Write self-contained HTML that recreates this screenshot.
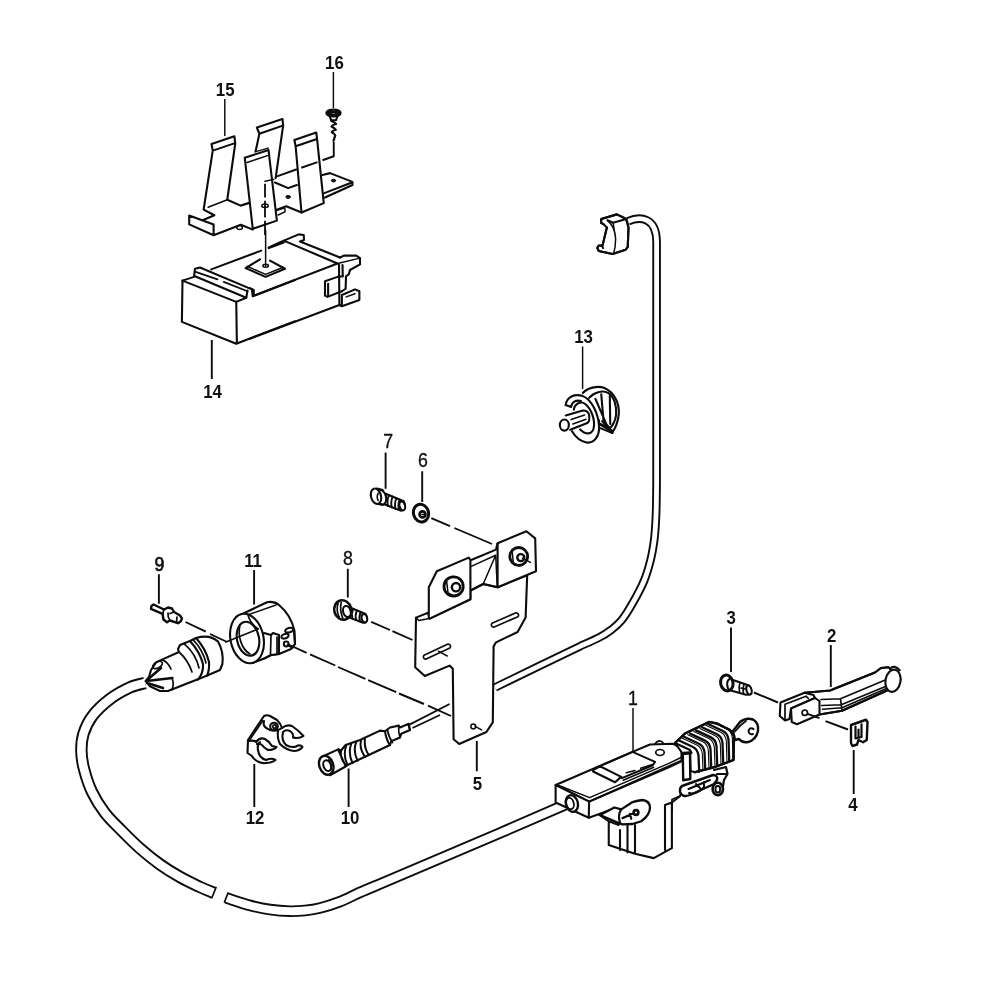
<!DOCTYPE html>
<html><head><meta charset="utf-8"><title>Central locking parts diagram</title>
<style>
html,body{margin:0;padding:0;background:#fff;}
body{width:1000px;height:1000px;overflow:hidden;position:relative;}
svg{position:absolute;left:0;top:0;display:block;}
path,ellipse,circle,line,polyline{vector-effect:non-scaling-stroke;fill:none;stroke:#0c0c0c;stroke-width:2.1;stroke-linecap:round;stroke-linejoin:round;}
.n{stroke-width:1.5;}
.m{stroke-width:1.7;}
.d{stroke-width:1.8;stroke-dasharray:13 4;stroke-linecap:butt;}
.w{fill:#fff;}
.b{fill:#111;}
text.lt{font-weight:normal;stroke:#111;stroke-width:0.35px;font-size:19.5px;}
text.md{font-weight:normal;stroke:#111;stroke-width:0.7px;font-size:19.5px;}
text{font-family:"Liberation Sans",sans-serif;font-weight:bold;font-size:18.5px;fill:#111;text-anchor:middle;}
</style></head><body>
<svg width="1000" height="1000" viewBox="0 0 1000 1000">
<!-- cable from top connector to bracket -->
<g>
<path style="stroke-width:8.6;stroke-linecap:butt" d="M628.1,221.2 C640,216 656.6,217 656.6,242 L656.6,460 C656.6,463.3 656.6,473.3 656.6,480.0 C656.6,486.7 656.5,493.3 656.4,500.0 C656.3,506.7 656.2,513.3 655.8,520.0 C655.4,526.7 655.1,533.3 654.2,540.0 C653.3,546.7 652.3,553.2 650.6,560.0 C648.9,566.8 646.9,573.9 644.0,581.0 C641.1,588.1 636.7,596.0 633.0,602.5 C629.3,609.0 625.5,615.4 621.8,620.0 C618.1,624.6 614.7,627.1 611.0,630.0 C607.3,632.9 604.7,634.6 599.5,637.3 C594.3,640.0 583.2,644.8 580.0,646.3 L540,665.6 L495,687.5"/>
<path style="stroke:#fff;stroke-width:4.8;stroke-linecap:butt" d="M628.1,221.2 C640,216 656.6,217 656.6,242 L656.6,460 C656.6,463.3 656.6,473.3 656.6,480.0 C656.6,486.7 656.5,493.3 656.4,500.0 C656.3,506.7 656.2,513.3 655.8,520.0 C655.4,526.7 655.1,533.3 654.2,540.0 C653.3,546.7 652.3,553.2 650.6,560.0 C648.9,566.8 646.9,573.9 644.0,581.0 C641.1,588.1 636.7,596.0 633.0,602.5 C629.3,609.0 625.5,615.4 621.8,620.0 C618.1,624.6 614.7,627.1 611.0,630.0 C607.3,632.9 604.7,634.6 599.5,637.3 C594.3,640.0 583.2,644.8 580.0,646.3 L540,665.6 L495,687.5"/>
</g>
<!-- left/bottom cable -->
<g>
<path style="stroke-width:12.4;stroke-linecap:butt" d="M145.0,683.0 C142.5,683.7 135.8,684.7 130.0,687.4 C124.2,690.1 116.3,694.2 110.0,699.0 C103.7,703.8 96.8,710.2 92.4,716.0 C88.0,721.8 85.2,728.2 83.4,734.0 C81.6,739.8 81.3,745.2 81.4,751.0 C81.5,756.8 82.2,762.2 84.0,769.0 C85.8,775.8 88.5,784.7 92.0,792.0 C95.5,799.3 100.2,806.7 105.0,813.0 C109.8,819.3 115.2,824.1 121.0,830.0 C126.8,835.9 133.5,842.7 140.0,848.4 C146.5,854.1 153.3,859.6 160.0,864.4 C166.7,869.2 173.3,873.2 180.0,877.0 C186.7,880.8 194.3,884.3 200.0,887.0 C205.7,889.7 211.7,892.0 214.0,893.0"/>
<path style="stroke:#fff;stroke-width:8.6;stroke-linecap:butt" d="M145.0,683.0 C142.5,683.7 135.8,684.7 130.0,687.4 C124.2,690.1 116.3,694.2 110.0,699.0 C103.7,703.8 96.8,710.2 92.4,716.0 C88.0,721.8 85.2,728.2 83.4,734.0 C81.6,739.8 81.3,745.2 81.4,751.0 C81.5,756.8 82.2,762.2 84.0,769.0 C85.8,775.8 88.5,784.7 92.0,792.0 C95.5,799.3 100.2,806.7 105.0,813.0 C109.8,819.3 115.2,824.1 121.0,830.0 C126.8,835.9 133.5,842.7 140.0,848.4 C146.5,854.1 153.3,859.6 160.0,864.4 C166.7,869.2 173.3,873.2 180.0,877.0 C186.7,880.8 194.3,884.3 200.0,887.0 C205.7,889.7 211.7,892.0 214.0,893.0"/>
<path class="m" d="M216,887.5 L212,897.5"/>
<path style="stroke-width:11.6;stroke-linecap:butt" d="M226.4,898.0 C230.3,899.2 242.7,903.5 250.0,905.4 C257.3,907.3 263.3,908.6 270.0,909.6 C276.7,910.6 284.2,911.1 290.0,911.2 C295.8,911.4 300.0,911.0 305.0,910.5 C310.0,910.0 314.2,909.5 320.0,908.0 C325.8,906.5 333.3,904.2 340.0,901.6 C346.7,899.0 353.3,895.3 360.0,892.4 C366.7,889.5 376.7,885.4 380.0,884.0 L500,833 L566,804.4"/>
<path style="stroke:#fff;stroke-width:7.8;stroke-linecap:butt" d="M226.4,898.0 C230.3,899.2 242.7,903.5 250.0,905.4 C257.3,907.3 263.3,908.6 270.0,909.6 C276.7,910.6 284.2,911.1 290.0,911.2 C295.8,911.4 300.0,911.0 305.0,910.5 C310.0,910.0 314.2,909.5 320.0,908.0 C325.8,906.5 333.3,904.2 340.0,901.6 C346.7,899.0 353.3,895.3 360.0,892.4 C366.7,889.5 376.7,885.4 380.0,884.0 L500,833 L566,804.4"/>
<path class="m" d="M228,893 L224.5,902"/>
</g>
<!-- bracket 15 -->
<g transform="translate(180,110) scale(0.125)">
<path d="M252,272 L435,210 M262,325 L440,265 M252,272 L262,325 L190,790 M435,210 L442,268 L378,718 M378,718 L485,765 L548,745"/>
<path class="n" d="M225,778 L378,718"/>
<path d="M615,140 L820,72 M635,190 L822,125 M615,140 L635,190 L605,330 M820,72 L825,125 L765,545"/>
<path d="M518,382 L708,320 M518,382 L582,950 L775,885 L708,320"/>
<path class="n" d="M535,420 L700,365 M600,335 L705,305"/>
<path class="n" d="M680,570 L750,555"/>
<path style="stroke-width:1.8;stroke-linecap:butt" d="M680,590 L680,700 M680,725 L680,860 M680,885 L680,1000"/>
<ellipse class="n" cx="680" cy="765" rx="26" ry="14"/>
</g>
<g transform="translate(180,190) scale(0.08)">
<path d="M295,245 L430,315 L290,375 M115,320 L115,430 L420,565 L420,430 L115,320 M420,565 L760,435 L910,495"/>
<ellipse class="n" cx="745" cy="468" rx="35" ry="25"/>
</g>
<g transform="translate(255,110) scale(0.125)">
<path d="M160,580 L265,625 L335,600"/>
<path d="M315,240 L490,180 M325,290 L495,232 M315,240 L325,290 L372,820 L550,745 L497,235 L490,180"/>
<path d="M540,520 L600,505 L780,575 L780,600 L560,700 M555,665 L770,582"/>
<path d="M170,800 L250,770 L372,820"/>
<path class="n" d="M180,800 L235,785 M185,840 L240,815 L240,790"/>
<ellipse class="b" style="stroke-width:1" cx="265" cy="695" rx="18" ry="12"/><ellipse class="b" style="stroke-width:1" cx="628" cy="565" rx="17" ry="11"/>
<path style="stroke-width:1.9;stroke-linecap:butt" d="M630,255 L630,370 L540,402 M500,417 L370,462 M335,474 L170,533"/>
</g>
<!-- box 14 -->
<g transform="translate(170,225) scale(0.125)">
<path d="M100,445 L95,775 L530,950 L1000,770 M530,615 L535,950 M100,445 L530,615 L610,582"/>
<path d="M100,445 L192,415 L200,350 L240,340 L655,515 L662,570 L1000,440"/>
<path d="M200,410 L610,582 L620,525"/>
<path class="m" d="M205,375 L380,435 M430,455 L620,530"/>
<path d="M330,355 L730,205 M790,180 L900,130"/>
<path d="M605,345 L765,415 L920,350 L800,285 M720,275 L605,345"/>
<path class="n" d="M615,330 L765,395 L905,338"/>
<path class="n" d="M765,45 L765,325"/>
<ellipse class="n" cx="765" cy="325" rx="22" ry="12"/>
</g>
<g transform="translate(250,215) scale(0.125)">
<path d="M150,265 L270,220 M270,205 L390,155 L430,160 L432,200 L400,212 L720,340 M270,205 L700,388 L30,645 L30,600 L0,585"/>
<path d="M720,340 L750,325 L850,325 L880,345 L880,395 L800,440 L790,475 L768,490 L765,590 L735,610"/>
<path d="M700,388 L880,345" class="n"/>
<path d="M712,395 L715,720 M740,400 L742,490" />
<path d="M742,490 L700,495 L600,530 L600,645 L620,655 L735,610 M625,550 L625,640" />
<path d="M735,640 L840,595 L875,610 L875,680 L735,730 L715,720 M735,640 L735,730"/>
<path class="n" d="M770,655 L840,630"/>
<path d="M0,990 L715,720"/>
</g>
<!-- bracket 15 remaining -->
<!-- top connector -->
<g transform="translate(560,190) scale(0.125)">
<path class="w" d="M330,232 L455,195 L530,232 L548,300 L542,455 L525,478 L420,512 L310,488 L298,462 L310,445 L335,445 L340,445 L375,300 L350,275 L328,262 Z"/>
<path d="M330,232 L455,195 L530,232 L425,262 L380,242 M330,232 L328,262 L350,275 M530,232 L548,300 L542,455 L525,478 L420,512 L310,488 L298,462 L310,445 L335,445 L345,465 M375,300 L340,445"/>
<path class="n" d="M380,245 Q440,290 445,390 Q445,460 428,510 M425,262 L445,390"/>
</g>
<!-- clip 13 -->
<g transform="translate(545,370) scale(0.09)">
<path d="M420,255 C470,200 580,170 660,200 C770,250 830,370 820,490 C810,590 780,650 745,700"/>
<path d="M490,310 C540,250 640,220 700,255 C770,300 800,400 790,500 C780,570 750,620 720,650"/>
<path d="M560,320 L690,620 M625,270 L650,560 M720,290 L725,600 M600,560 L600,640 L750,700"/><path style="stroke-width:2.8" d="M610,600 L750,680 M640,570 L720,650"/>
<path class="w" d="M230,390 C240,300 330,260 420,290 C520,330 590,480 600,620 C610,740 540,820 460,805 C390,790 330,730 300,680"/>
<path d="M230,390 L290,410 C 300,350 350,330 400,345"/>
<path d="M320,440 C330,370 400,340 450,380 C520,440 560,560 540,650 C520,720 450,720 390,660"/>
<path class="w" d="M230,505 L420,450 Q480,450 490,500 Q500,570 470,590 L280,665"/>
<path class="n" d="M290,550 L440,500 M310,600 L455,548"/>
<ellipse class="w" cx="215" cy="612" rx="50" ry="62"/>

</g>
<!-- screw 16 -->
<g transform="translate(255,110) scale(0.125)">
<path class="w" d="M595,45 L610,82 L648,82 L662,45"/>
<ellipse class="w" style="stroke-width:2.4" cx="628" cy="24" rx="56" ry="27"/>
<path style="stroke-width:2.4" d="M585,24 Q628,50 670,24 M600,15 L655,15"/>
<path style="stroke-width:2.3" d="M612,88 Q640,100 648,112 Q620,118 612,132 Q640,146 646,158 Q620,164 614,178 Q640,192 642,204 L628,246"/>
</g>
<!-- bracket 5 -->
<g transform="translate(400,520) scale(0.16)">
<path class="w" d="M100,610 L95,920 L155,975 L310,910 L330,930 L335,1370 L370,1400 L540,1325 L580,1265 L585,790 L600,765 L735,700 L785,610 L795,345 L610,420 L520,400 L440,440 L440,495 L185,615 L175,580 Z"/>
<path class="w" d="M180,610 L180,420 L230,320 L430,235 L440,250 L440,495 L185,617"/>
<path class="w" d="M610,145 L790,70 L845,115 L850,320 L610,420 Z"/>
<path d="M445,250 L600,185 L610,145 M445,440 L520,400 L610,420"/>
<path class="n" d="M445,290 L598,220 M520,400 L598,220 L608,418"/>
<path class="n" d="M100,610 L118,628 L182,615"/>
<path d="M160,870 A15,15 0 0 1 150,845 L300,775 A15,15 0 0 1 312,800 Z" class="m"/>
<path d="M585,670 A15,15 0 0 1 575,645 L725,580 A15,15 0 0 1 737,605 Z" class="m"/>
<path class="n" d="M240,820 L295,850"/>
<circle style="stroke-width:2.8" cx="335" cy="415" r="60"/>
<circle cx="350" cy="420" r="26" style="stroke-width:2.4"/>
<path class="n" d="M290,370 L300,455 M300,455 L345,478 M290,370 L330,352"/>
<circle style="stroke-width:2.8" cx="742" cy="228" r="56"/>
<circle cx="755" cy="235" r="22" style="stroke-width:2.4"/>
<path class="n" d="M700,185 L708,268 M708,268 L750,288 M700,185 L740,170 M765,238 L815,265"/>
<circle cx="458" cy="1290" r="15" class="n"/>
<path class="n" d="M470,1290 L510,1312"/>
</g>
<!-- screw 7 -->
<g transform="translate(350,420) scale(0.125)">
<path class="w" d="M285,590 L430,650 Q450,690 425,722 L405,725 L265,670 Z"/>
<ellipse class="w" cx="418" cy="687" rx="22" ry="36" transform="rotate(-15 418 687)"/>
<path style="stroke-width:1.9" d="M312,600 Q292,645 305,688 M342,612 Q322,655 335,700 M372,625 Q352,668 365,712 M398,636 Q380,676 392,718"/>
<ellipse class="w" cx="250" cy="618" rx="38" ry="60" transform="rotate(-15 250 618)"/>
<ellipse class="w" cx="208" cy="610" rx="40" ry="63" transform="rotate(-15 208 610)"/>
<path d="M215,548 L262,560 M222,672 L262,678"/>
<path class="n" d="M225,585 Q210,615 225,645"/>
</g>
<!-- washer 6 -->
<g transform="translate(350,420) scale(0.125)">
<ellipse class="w" style="stroke-width:3" cx="568" cy="745" rx="60" ry="72" transform="rotate(-15 568 745)"/>
<circle style="stroke-width:2.6" cx="580" cy="755" r="24"/>
<path class="n" d="M575,755 L600,755"/>
</g>
<!-- screw 8 -->
<g transform="translate(310,530) scale(0.125)">
<path class="w" d="M320,620 L445,672 Q465,705 445,740 L425,742 L300,695 Z"/>
<ellipse class="w" cx="435" cy="706" rx="22" ry="34" transform="rotate(-15 435 706)"/>
<path style="stroke-width:1.9" d="M345,632 Q328,672 340,708 M375,645 Q358,685 370,720 M405,657 Q388,697 400,732"/>
<ellipse class="w" style="stroke-width:2.6" cx="262" cy="640" rx="68" ry="78" transform="rotate(-15 262 640)"/>
<ellipse class="w" cx="295" cy="652" rx="30" ry="45" transform="rotate(-15 295 652)"/>
<path class="m" d="M225,585 Q205,640 235,700 M250,580 Q235,640 262,705"/>
</g>
<!-- axis dashes -->
<path style="stroke-width:1.9;stroke-linecap:butt" d="M431.3,518.1 L450,526.2 M454.4,528 L492,544 M371.2,621.9 L390,630 M392.5,631.2 L412.5,640"/>
<!-- actuator 1 -->
<g transform="translate(545,735) scale(0.125)">
<path class="w" d="M85,400 L700,135 L840,76 L1020,70 Q1080,90 1092,140 L1092,205 L353,533 Z"/>
<path class="w" d="M85,400 L85,540 L350,662 L353,533 Z"/>
<path style="stroke-width:1.9" d="M353,533 L1000,255 L1092,212 M350,662 L440,630 L520,600 M1015,540 L1080,490 L1100,420"/>
<path style="stroke-width:1.6" d="M110,404 L357,501 L1000,223 L1088,180"/>
<path d="M385,280 L440,250 L610,335 L560,378 L385,292 Z M470,235 L700,135 L880,215 L862,242 L615,345"/>
<path class="n" d="M650,302 L720,284 M765,266 L860,236 M625,362 L870,258"/>
<ellipse class="w" style="stroke-width:2.4" cx="215" cy="548" rx="48" ry="68" transform="rotate(-15 215 548)"/>
<ellipse style="stroke-width:1.8" cx="200" cy="548" rx="30" ry="46" transform="rotate(-15 200 548)"/>
<ellipse class="m" cx="920" cy="140" rx="34" ry="24"/>
<path class="m" d="M880,70 Q915,25 950,68"/>
<!-- lower block -->
<path d="M435,640 L510,690 L510,880 L720,950 L870,985 L1015,905 L1015,540 M510,690 L590,720 M600,760 L600,920 M660,720 L660,940 M720,720 L720,950 M960,560 L960,920 M960,560 L1015,540"/>
<!-- connector tab -->
<path class="w" style="stroke-width:2.3" d="M440,640 L555,580 L610,595 L680,550 Q700,530 780,520 Q840,530 840,580 Q840,640 770,690 L700,712 L620,715 L590,705 Z"/>
<path style="stroke-width:2.2" d="M610,595 Q580,640 600,700 M620,665 L700,630 M680,630 L690,670"/>
<circle style="stroke-width:2.6" cx="728" cy="620" r="19"/>
</g>
<!-- bellows / eye / clip on actuator -->
<g transform="translate(670,710) scale(0.1)">
<!-- eye -->
<path class="w" style="stroke-width:2.4" d="M630,210 L700,120 Q760,70 830,95 Q890,130 880,210 Q860,300 780,320 Q720,330 690,290 L650,300 Z"/>
<path class="m" d="M650,215 Q700,150 760,110"/>
<path style="stroke-width:2" d="M835,190 Q795,170 785,210 Q790,250 830,240"/>
<!-- bellows body -->
<path class="w" d="M50,330 L150,235 L390,120 L470,135 L600,200 L640,260 L635,500 L450,570 L250,622 L205,610 L200,430 L130,440 Z"/>
<path style="stroke-width:2.3" d="M80,300 L230,370 Q275,390 285,455 L292,618 M140,268 L290,338 Q335,358 345,423 L352,596 M200,236 L350,306 Q395,326 405,391 L412,575 M260,204 L410,274 Q455,294 465,359 L472,553 M320,172 L470,242 Q515,262 525,327 L532,532 M380,140 L530,210 Q575,230 585,295 L592,510"/>
<path style="stroke-width:1.1" d="M118,280 L268,350 Q313,370 323,435 L330,605 M178,248 L328,318 Q373,338 383,403 L390,583 M238,216 L388,286 Q433,306 443,371 L450,562 M298,184 L448,254 Q493,274 503,339 L510,540 M358,152 L508,222 Q553,242 563,307 L570,519 M418,120 L568,190 Q613,210 623,275 L630,497"/>
<path style="stroke-width:2.4" d="M50,330 L150,235 L390,120 L470,135 L600,200 L640,260 L635,500 L450,570 L250,622"/>
<path style="stroke-width:2.2" d="M50,330 L200,400 L215,430"/>
<!-- post -->
<path class="w" style="stroke-width:2.4" d="M128,440 L200,430 L203,690 L132,702 Z"/>
<path style="stroke-width:3" d="M135,432 L198,428"/>
<!-- clip below -->
<path class="w" style="stroke-width:2.4" d="M120,760 L430,650 Q480,650 470,700 L440,740 L200,850 Q120,880 100,820 Q95,780 120,760 Z"/>
<path style="stroke-width:2" d="M185,790 L400,700 M190,830 Q260,850 330,780 M260,740 L300,780 M340,720 L340,770"/>
<ellipse class="w" style="stroke-width:2.6" cx="478" cy="790" rx="52" ry="62"/>
<ellipse style="stroke-width:2" cx="478" cy="792" rx="24" ry="32"/>
<path style="stroke-width:2.2" d="M440,600 L560,570 L575,640 L540,700 L530,760 M470,640 L560,640"/>
<path class="m" d="M100,860 L20,895 L20,1000"/>
</g>
<!-- lever 2 -->
<g transform="translate(770,650) scale(0.15)">
<path class="w" d="M230,285 L290,280 L400,270 L500,230 L700,150 L740,120 L790,115 L870,200 L780,270 L480,405 L330,430 Z"/>
<path d="M230,285 L290,280 L400,270 L500,230 L700,150 L740,120 L790,115 M330,430 L480,405 L780,270"/>
<path class="m" d="M340,330 L470,325 L780,195 M345,370 L475,365 L790,235 M350,395 L480,385 L780,255 M470,325 L480,405"/>
<ellipse class="w" cx="820" cy="205" rx="50" ry="75" transform="rotate(10 820 205)"/>
<path d="M800,125 Q830,95 865,135"/>
<path class="w" d="M70,350 L230,285 L290,300 L300,320 L140,390 L130,460 L100,470 L65,440 Z"/>
<path class="w" d="M140,390 L300,320 L330,340 L330,430 L180,495 L145,480 Z"/>
<path class="m" d="M100,362 L240,308 L255,322 M100,362 L100,468"/>
<circle class="m" cx="232" cy="418" r="18"/>
<!-- clip 4 -->
<path class="w" style="stroke-width:2.4" d="M540,500 L640,465 L650,480 L645,600 L620,615 L590,600 L580,630 L550,640 L540,620 Z"/>
<path style="stroke-width:2.2" d="M570,510 L570,590 L610,580 L610,495 M590,530 L590,585"/>
</g>
<!-- screw 3 -->
<g transform="translate(700,640) scale(0.1)">
<path class="w" d="M300,390 L490,455 Q520,490 500,545 L460,548 L290,500 Z"/>
<ellipse class="w" cx="490" cy="500" rx="25" ry="46" transform="rotate(-15 490 500)"/>
<path class="m" d="M400,425 Q385,470 395,520 M440,440 Q425,485 435,535 M410,480 L450,490"/>
<ellipse class="w" style="stroke-width:3" cx="268" cy="430" rx="62" ry="80" transform="rotate(-12 268 430)"/>
<path class="w" style="stroke-width:2" d="M300,388 Q270,400 272,445 Q275,490 295,502"/>
</g>
<path style="stroke-width:1.9;stroke-linecap:butt" d="M754,692.5 L778,702.5 M807.5,713.8 L819.5,718.2 M825.5,721.2 L848,729.5"/>
<!-- plug -->
<g transform="translate(130,540) scale(0.2)">
<path class="w" d="M80,705 L95,685 L105,650 L130,612 L160,598 L245,560 L240,545 L250,525 L300,505 L330,490 Q400,470 440,508 Q470,560 462,620 L450,650 L380,680 L330,700 L190,755 L150,755 L100,732 Z"/>
<path d="M300,505 Q350,560 365,620 Q368,665 340,698 M330,490 Q380,545 395,610 Q398,650 385,678"/>
<path class="m" d="M245,560 Q290,600 310,660 M270,518 Q330,570 345,640 M315,498 Q365,550 380,615"/>
<path class="m" d="M160,598 Q190,610 205,645 M210,690 Q222,720 210,748"/>
<ellipse class="m" cx="138" cy="625" rx="26" ry="15" transform="rotate(-30 138 625)"/>
<path style="stroke-width:2.6" d="M80,705 L155,640 M82,705 L212,690 M85,715 L165,740"/>
</g>
<!-- pin 9 -->
<g transform="translate(130,590) scale(0.1)">
<path class="w" style="stroke-width:2.4" d="M215,160 L235,145 L340,195 L380,175 L420,185 L440,220 L500,255 L520,285 L505,315 L480,332 L400,305 L370,322 L335,295 L325,238 L210,188 Z"/>
<path class="m" d="M340,195 Q320,240 335,295 M380,230 Q375,270 400,305 M440,220 L400,235 M470,270 L465,325"/>
</g>
<!-- sleeve 11 -->
<g transform="translate(215,585) scale(0.1)">
<path class="w" d="M215,318 L520,172 Q590,160 640,200 Q760,300 795,460 L800,590 L760,640 L640,690 L560,700 L480,740 L370,780 Z"/>
<path class="n" d="M325,300 L610,200"/>
<path class="w" d="M490,480 L560,500 L580,480 L640,500 L640,690 L560,700 L480,740"/>
<path class="m" d="M560,500 L555,690 M620,520 L620,690"/>
<ellipse class="w" style="stroke-width:2" cx="742" cy="452" rx="42" ry="22" transform="rotate(-15 742 452)"/>
<ellipse class="w" style="stroke-width:2" cx="700" cy="512" rx="38" ry="22" transform="rotate(-20 700 512)"/>
<circle class="w" style="stroke-width:2" cx="712" cy="590" r="24"/>
<path style="stroke-width:2" d="M725,600 L775,630 M790,470 L800,590"/>
<ellipse class="w" cx="320" cy="535" rx="165" ry="250" transform="rotate(-12 320 535)"/>
<ellipse cx="330" cy="538" rx="110" ry="172" transform="rotate(-12 330 538)"/>
<path class="m" d="M250,400 C225,500 260,640 350,690"/>
<path d="M110,570 L430,440" class="m"/>
<path class="m" d="M330,300 Q350,380 430,440"/>
</g>
<!-- clip 12 -->
<g transform="translate(230,700) scale(0.1)">
<path class="w" d="M180,400 L340,160 Q370,145 400,160 L470,200 Q510,240 520,280 L480,310 L480,420 L300,420 L280,500 Q290,580 360,600 L400,625 L340,632 Q250,620 220,560 L175,530 Z" style="stroke:none"/>
<path d="M180,400 L340,160 Q370,145 400,160 L470,200 Q510,240 520,280 M180,400 L175,530 L220,560 Q250,620 340,632 L400,625 Q440,615 455,600 Q420,575 360,600 Q290,580 280,500 Q270,440 300,420"/>
<path d="M340,210 Q320,270 400,300 Q470,320 520,280 Q570,240 620,260 Q680,300 735,360 Q690,390 630,375 Q640,340 600,310 Q560,290 530,320 Q510,400 560,450 Q610,480 660,465 Q700,440 725,470 Q690,510 640,510 Q560,500 500,440 Q470,380 480,310"/>
<path d="M190,410 Q240,400 260,420 Q300,370 350,390 Q400,420 420,460 L465,470 Q440,500 380,500 Q340,480 320,450 Q290,430 270,440"/>
<circle cx="440" cy="265" r="38"/>
<circle class="m" cx="445" cy="265" r="17"/>
<path class="n" d="M200,395 L330,205"/>
</g>
<!-- connector 10 -->
<g transform="translate(310,690) scale(0.125)">
<path class="w" d="M110,528 L225,475 L250,482 L285,440 L400,400 L560,325 L600,330 L640,300 L710,285 L720,300 L790,270 L800,320 L730,350 L720,380 L650,410 L640,440 L470,520 L300,600 L285,612 L160,682 Z"/>
<path style="stroke-width:2" d="M290,445 Q262,520 300,600 M330,430 Q302,505 340,585 M370,415 Q342,490 380,565 M410,400 Q390,460 440,535 M440,390 Q430,460 470,520 M600,330 Q610,400 640,440 M225,478 Q255,540 285,610 M250,482 Q235,540 290,608"/>
<path class="m" d="M620,320 Q630,380 660,420 M710,285 Q705,340 720,380 M790,270 Q785,300 800,320"/>
<ellipse class="w" style="stroke-width:2.4" cx="130" cy="602" rx="55" ry="78" transform="rotate(-20 130 602)"/>
<ellipse style="stroke-width:2" cx="138" cy="605" rx="30" ry="45" transform="rotate(-20 138 605)"/>
<path class="m" d="M150,560 Q175,590 165,640"/>
</g>
<path style="stroke-width:1.8;stroke-linecap:butt" d="M410,724.4 L449.6,704 M412.5,728 L440,715"/>
<!-- axis dashes 9-11-5 -->
<path style="stroke-width:1.9;stroke-linecap:butt" d="M185.5,622 L205.8,631.7 M210,634 L226.1,641.5 M288.4,644.5 L306.6,652.9 M310,654.3 L335.3,665.5 M338,667 L365.4,678.8 M368.2,680.2 L396.2,692.1 M399,693.5 L424,704 M428,705.6 L451,716"/>
<!-- labels -->
<g style="opacity:0.999">
<path class="n" style="stroke-width:1.45;stroke-linecap:butt" d="M224.8,99.0 L224.8,136.0 M333.4,72.0 L333.4,108.0 M582.6,346.4 L582.6,389.0 M633.0,708.0 L633.0,751.5"/>
<path class="n" style="stroke-width:1.9;stroke-linecap:butt" d="M422.2,471.3 L422.2,502.0 M385.6,452.5 L385.6,488.8 M347.8,568.8 L347.8,597.5 M158.9,574.3 L158.9,603.7 M254.1,570.1 L254.1,604.4 M830.8,645.0 L830.8,687.0 M731.0,627.5 L731.0,672.0 M853.7,750.0 L853.7,794.0 M254.3,764.0 L254.3,807.0 M348.6,768.5 L348.6,807.0 M476.8,741.0 L476.8,771.2 M211.8,340.0 L211.8,379.0"/>
<text transform="translate(225.15,95.50) scale(0.91,1)">15</text>
<text transform="translate(334.45,68.85) scale(0.91,1)">16</text>
<text transform="translate(212.50,398.32) scale(0.91,1)">14</text>
<text transform="translate(583.50,342.90) scale(0.91,1)">13</text>
<text class="lt" transform="translate(388.15,447.95) scale(0.91,1)">7</text>
<text class="lt" transform="translate(423.00,466.95) scale(0.91,1)">6</text>
<text class="lt" transform="translate(347.82,564.50) scale(0.91,1)">8</text>
<text class="md" transform="translate(159.40,571.20) scale(0.91,1)">9</text>
<text transform="translate(253.05,567.00) scale(0.91,1)">11</text>
<text transform="translate(255.00,823.70) scale(0.91,1)">12</text>
<text transform="translate(350.00,823.50) scale(0.91,1)">10</text>
<text transform="translate(477.40,789.50) scale(0.91,1)">5</text>
<text class="lt" transform="translate(632.80,704.70) scale(0.91,1)">1</text>
<text transform="translate(731.15,624.30) scale(0.91,1)">3</text>
<text transform="translate(831.65,641.90) scale(0.91,1)">2</text>
<text transform="translate(852.90,811.10) scale(0.91,1)">4</text>
</g>
</svg>
</body></html>
